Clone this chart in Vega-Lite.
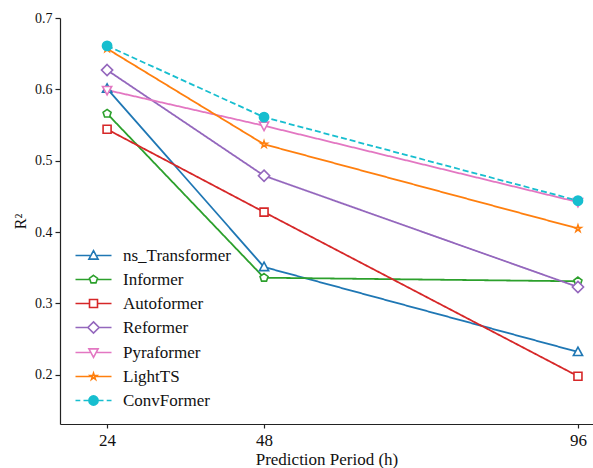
{
  "$schema": "https://vega.github.io/schema/vega-lite/v6.json",
  "width": 533,
  "height": 406,
  "autosize": {"type": "none"},
  "padding": {"left": 60, "top": 18, "right": 0, "bottom": 44},
  "background": "white",
  "config": {
    "view": {"stroke": null},
    "font": "Liberation Serif",
    "axis": {"grid": false, "domainColor": "#222", "tickColor": "#222", "labelColor": "#111", "titleColor": "#111", "titleFontWeight": "normal", "domainWidth": 1.2, "tickWidth": 1.2, "labelFont": "Liberation Serif", "titleFont": "Liberation Serif"},
    "legend": {"labelFont": "Liberation Serif", "labelFontWeight": "normal"}
  },
  "data": {
    "values": [
      {"model": "ns_Transformer", "h": 24, "r2": 0.601},
      {"model": "ns_Transformer", "h": 48, "r2": 0.351},
      {"model": "ns_Transformer", "h": 96, "r2": 0.232},
      {"model": "Informer", "h": 24, "r2": 0.566},
      {"model": "Informer", "h": 48, "r2": 0.336},
      {"model": "Informer", "h": 96, "r2": 0.331},
      {"model": "Autoformer", "h": 24, "r2": 0.544},
      {"model": "Autoformer", "h": 48, "r2": 0.428},
      {"model": "Autoformer", "h": 96, "r2": 0.198},
      {"model": "Reformer", "h": 24, "r2": 0.627},
      {"model": "Reformer", "h": 48, "r2": 0.479},
      {"model": "Reformer", "h": 96, "r2": 0.323},
      {"model": "Pyraformer", "h": 24, "r2": 0.599},
      {"model": "Pyraformer", "h": 48, "r2": 0.549},
      {"model": "Pyraformer", "h": 96, "r2": 0.442},
      {"model": "LightTS", "h": 24, "r2": 0.657},
      {"model": "LightTS", "h": 48, "r2": 0.523},
      {"model": "LightTS", "h": 96, "r2": 0.405},
      {"model": "ConvFormer", "h": 24, "r2": 0.661},
      {"model": "ConvFormer", "h": 48, "r2": 0.561},
      {"model": "ConvFormer", "h": 96, "r2": 0.444}
    ]
  },
  "resolve": {"scale": {"shape": "independent", "fill": "independent", "stroke": "independent"}},
  "layer": [
    {
      "mark": {"type": "line", "strokeWidth": 1.8},
      "encoding": {
        "x": {"field": "h", "type": "quantitative", "scale": {"domain": [16.8, 98.3], "nice": false, "zero": false}, "axis": {"values": [24, 48, 96], "title": "Prediction Period (h)", "labelFont": "Liberation Serif", "titleFont": "Liberation Serif", "labelFontSize": 17, "titleFontSize": 17, "tickSize": 4, "labelPadding": 4, "titlePadding": 3}},
        "y": {"field": "r2", "type": "quantitative", "scale": {"domain": [0.131, 0.7], "nice": false, "zero": false}, "axis": {"values": [0.2, 0.3, 0.4, 0.5, 0.6, 0.7], "format": ".1f", "title": "R²", "labelFont": "Liberation Serif", "titleFont": "Liberation Serif", "labelFontSize": 14, "titleFontSize": 16, "tickSize": 5, "labelPadding": 3, "titlePadding": 6}},
        "stroke": {"field": "model", "type": "nominal", "scale": {"domain": ["ns_Transformer", "Informer", "Autoformer", "Reformer", "Pyraformer", "LightTS", "ConvFormer"], "range": ["#1f77b4", "#2ca02c", "#d62728", "#9467bd", "#e377c2", "#ff7f0e", "#17becf"]}, "legend": null},
        "strokeDash": {"field": "model", "type": "nominal", "scale": {"domain": ["ns_Transformer", "Informer", "Autoformer", "Reformer", "Pyraformer", "LightTS", "ConvFormer"], "range": [[1, 0], [1, 0], [1, 0], [1, 0], [1, 0], [1, 0], [6, 3]]}, "legend": null}
      }
    },
    {
      "mark": {"type": "point", "filled": false, "size": 64, "strokeWidth": 1.6, "opacity": 1},
      "encoding": {
        "x": {"field": "h", "type": "quantitative"},
        "y": {"field": "r2", "type": "quantitative"},
        "stroke": {"field": "model", "type": "nominal", "scale": {"domain": ["ns_Transformer", "Informer", "Autoformer", "Reformer", "Pyraformer", "LightTS", "ConvFormer"], "range": ["#1f77b4", "#2ca02c", "#d62728", "#9467bd", "#e377c2", "#ff7f0e", "#17becf"]}, "legend": null},
        "fill": {"field": "model", "type": "nominal", "scale": {"domain": ["ns_Transformer", "Informer", "Autoformer", "Reformer", "Pyraformer", "LightTS", "ConvFormer"], "range": ["white", "white", "white", "white", "white", "white", "#17becf"]}, "legend": null},
        "shape": {"field": "model", "type": "nominal", "scale": {"domain": ["ns_Transformer", "Informer", "Autoformer", "Reformer", "Pyraformer", "LightTS", "ConvFormer"], "range": [
          "M0,-1.2L1.15,0.9L-1.15,0.9Z",
          "M0,-1.05L1,-0.32L0.62,0.85L-0.62,0.85L-1,-0.32Z",
          "M-1,-1H1V1H-1Z",
          "M0,-1.4L1.4,0L0,1.4L-1.4,0Z",
          "M0,1.2L1.15,-0.9L-1.15,-0.9Z",
          "M0,-0.85L0.19,-0.26L0.81,-0.26L0.31,0.1L0.5,0.69L0,0.32L-0.5,0.69L-0.31,0.1L-0.81,-0.26L-0.19,-0.26Z",
          "M1.15,0A1.15,1.15,0,1,1,-1.15,0A1.15,1.15,0,1,1,1.15,0Z"
        ]}, "legend": null}
      }
    },
    {
      "transform": [{"filter": "datum.h < 0"}],
      "mark": {"type": "point", "filled": false, "size": 64, "strokeWidth": 1.6, "opacity": 1},
      "encoding": {
        "stroke": {"field": "model", "type": "nominal", "scale": {"domain": ["ns_Transformer", "Informer", "Autoformer", "Reformer", "Pyraformer", "LightTS", "ConvFormer"], "range": ["#1f77b4", "#2ca02c", "#d62728", "#9467bd", "#e377c2", "#ff7f0e", "#17becf"]},
          "legend": {"title": null, "orient": "none", "legendX": 25, "legendY": 229, "labelFontSize": 17, "labelFont": "Liberation Serif", "labelColor": "#111", "labelOffset": 21, "rowPadding": 6, "padding": 0, "symbolSize": 64, "symbolStrokeWidth": 1.6}},
        "fill": {"field": "model", "type": "nominal", "scale": {"domain": ["ns_Transformer", "Informer", "Autoformer", "Reformer", "Pyraformer", "LightTS", "ConvFormer"], "range": ["white", "white", "white", "white", "white", "white", "#17becf"]},
          "legend": {"title": null, "orient": "none", "legendX": 25, "legendY": 229}},
        "shape": {"field": "model", "type": "nominal", "scale": {"domain": ["ns_Transformer", "Informer", "Autoformer", "Reformer", "Pyraformer", "LightTS", "ConvFormer"], "range": [
          "M-4.5,0H-0.9M0.9,0H4.5M0,-1.2L1.15,0.9L-1.15,0.9Z",
          "M-4.5,0H-0.9M0.9,0H4.5M0,-1.05L1,-0.32L0.62,0.85L-0.62,0.85L-1,-0.32Z",
          "M-4.5,0H-1M1,0H4.5M-1,-1H1V1H-1Z",
          "M-4.5,0H-1.4M1.4,0H4.5M0,-1.4L1.4,0L0,1.4L-1.4,0Z",
          "M-4.5,0H-0.9M0.9,0H4.5M0,1.2L1.15,-0.9L-1.15,-0.9Z",
          "M-4.5,0H-0.6M0.6,0H4.5M0,-0.85L0.19,-0.26L0.81,-0.26L0.31,0.1L0.5,0.69L0,0.32L-0.5,0.69L-0.31,0.1L-0.81,-0.26L-0.19,-0.26Z",
          "M-4.5,0H-3.3M-2.5,0H-1.15M1.15,0H2.5M3.3,0H4.5M1.15,0A1.15,1.15,0,1,1,-1.15,0A1.15,1.15,0,1,1,1.15,0Z"
        ]},
          "legend": {"title": null, "orient": "none", "legendX": 25, "legendY": 229}}
      }
    }
  ]
}
